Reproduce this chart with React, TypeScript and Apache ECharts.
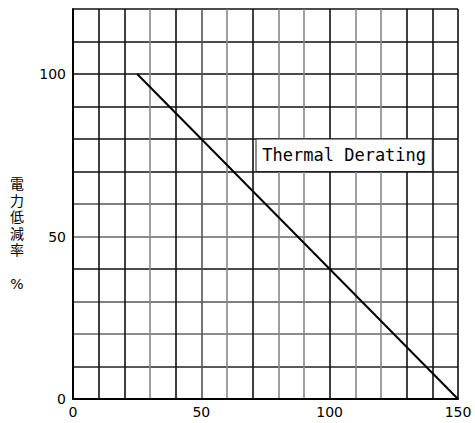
import React, { useEffect, useRef } from "react";
import * as echarts from "echarts";

const lineX = [25, 150];
const lineY = [100, 0];
const xLabels = [0, 50, 100, 150];
const yLabels = [0, 50, 100];
const noteText = "Thermal Derating";
const noteBox = [[71.3, 80], [140, 70]];
const yName = ["電", "力", "低", "減", "率", "", "%"];

const xGridColors = ["#111", "#111", "#111", "#888", "#111", "#555", "#888", "#111", "#888", "#888", "#111", "#888", "#888", "#111", "#111", "#111"];
const yGridColors = ["#111", "#222", "#666", "#555", "#111", "#666", "#555", "#111", "#111", "#111", "#111", "#111", "#111"];

export default function App() {
  const ref = useRef<HTMLDivElement>(null);
  useEffect(() => {
    const chart = echarts.init(ref.current!, null, { renderer: "svg" });
    const labelFont = { fontFamily: "DejaVu Sans", fontSize: 14, color: "#000" };
    const nameTexts = yName
      .map((ch, i) => ({ ch, i }))
      .filter((o) => o.ch !== "")
      .map((o) => ({
        type: "text",
        x: 17,
        y: 184 + o.i * 16.6,
        style: {
          text: o.ch,
          font: '14px "DejaVu Sans", "Noto Sans CJK JP"',
          fill: "#000",
          align: "center",
          verticalAlign: "middle",
        },
      }));
    chart.setOption({
      animation: false,
      backgroundColor: "#fff",
      grid: { left: 73, right: 17, top: 9, bottom: 24, containLabel: false },
      xAxis: {
        type: "value",
        min: 0,
        max: 150,
        interval: 10,
        axisLine: { show: true, lineStyle: { color: "#000", width: 2 } },
        axisTick: { show: false },
        axisLabel: {
          ...labelFont,
          margin: 6,
          formatter: (v: number) => (xLabels.includes(v) ? String(v) : ""),
        },
        splitLine: { show: true, lineStyle: { color: xGridColors, width: 1.6 } },
      },
      yAxis: {
        type: "value",
        min: 0,
        max: 120,
        interval: 10,
        axisLine: { show: true, lineStyle: { color: "#000", width: 2 } },
        axisTick: { show: false },
        axisLabel: {
          ...labelFont,
          margin: 7,
          formatter: (v: number) => (yLabels.includes(v) ? String(v) : ""),
        },
        splitLine: { show: true, lineStyle: { color: yGridColors, width: 1.6 } },
      },
      graphic: nameTexts,
      series: [
        {
          type: "line",
          data: lineX.map((x, i) => [x, lineY[i]]),
          symbol: "none",
          lineStyle: { color: "#000", width: 2 },
          markArea: {
            silent: true,
            itemStyle: { color: "#fff", borderColor: "#222", borderWidth: 1 },
            label: {
              show: true,
              position: "inside",
              color: "#000",
              fontFamily: "DejaVu Sans Mono",
              fontSize: 17,
            },
            data: [
              [
                { name: noteText, coord: noteBox[0] },
                { coord: noteBox[1] },
              ],
            ],
          },
        },
      ],
    });
    return () => chart.dispose();
  }, []);
  return (
    <div
      ref={ref}
      style={{ position: "fixed", left: 0, top: 0, width: 475, height: 423 }}
    />
  );
}
